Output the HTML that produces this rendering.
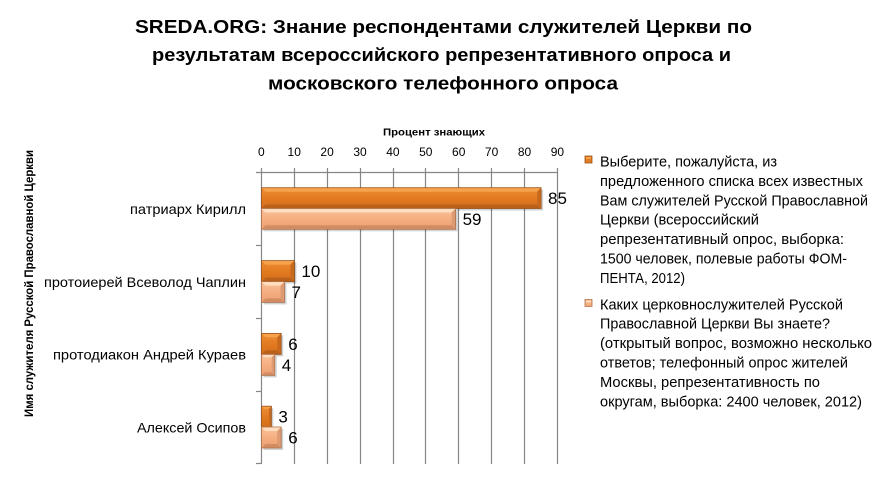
<!DOCTYPE html>
<html><head><meta charset="utf-8"><style>
html,body{margin:0;padding:0;background:#fff;}
svg{display:block;}
text{font-family:"Liberation Sans","DejaVu Sans",sans-serif;fill:#000;}
</style></head><body>
<svg width="887" height="480" viewBox="0 0 887 480" xmlns="http://www.w3.org/2000/svg">
<defs>
<linearGradient id="go" x1="0" y1="0" x2="0" y2="1">
<stop offset="0" stop-color="#EE8E36"/><stop offset="0.5" stop-color="#E37B22"/><stop offset="1" stop-color="#D46E1A"/>
</linearGradient>
<linearGradient id="gl" x1="0" y1="0" x2="0" y2="1">
<stop offset="0" stop-color="#FAC29C"/><stop offset="0.5" stop-color="#F5AE80"/><stop offset="1" stop-color="#EDA072"/>
</linearGradient>
</defs>
<rect width="887" height="480" fill="#fff"/>

<!-- Title -->
<g font-weight="bold" font-size="18">
<text x="135" y="33" textLength="617" lengthAdjust="spacingAndGlyphs">SREDA.ORG: Знание респондентами служителей Церкви по</text>
<text x="152" y="61" textLength="579" lengthAdjust="spacingAndGlyphs">результатам всероссийского репрезентативного опроса и</text>
<text x="268" y="89.5" textLength="350" lengthAdjust="spacingAndGlyphs">московского телефонного опроса</text>
</g>

<!-- Axis title top -->
<text x="383" y="135.5" font-size="10.5" font-weight="bold" textLength="102" lengthAdjust="spacingAndGlyphs">Процент знающих</text>

<!-- Tick labels -->
<g font-size="12" text-anchor="middle">
<text x="261.3" y="156">0</text>
<text x="294.2" y="156">10</text>
<text x="327.1" y="156">20</text>
<text x="360" y="156">30</text>
<text x="392.9" y="156">40</text>
<text x="425.8" y="156">50</text>
<text x="458.7" y="156">60</text>
<text x="491.6" y="156">70</text>
<text x="524.5" y="156">80</text>
<text x="557.4" y="156">90</text>
</g>

<!-- Gridlines -->
<g stroke="#868686" stroke-width="1.2">
<line x1="261.5" y1="168" x2="261.5" y2="464"/>
<line x1="294.5" y1="168" x2="294.5" y2="464"/>
<line x1="327.5" y1="168" x2="327.5" y2="464"/>
<line x1="360.5" y1="168" x2="360.5" y2="464"/>
<line x1="393.5" y1="168" x2="393.5" y2="464"/>
<line x1="425.5" y1="168" x2="425.5" y2="464"/>
<line x1="458.5" y1="168" x2="458.5" y2="464"/>
<line x1="491.5" y1="168" x2="491.5" y2="464"/>
<line x1="524.5" y1="168" x2="524.5" y2="464"/>
<line x1="557.5" y1="168" x2="557.5" y2="464"/>
<line x1="256" y1="172.5" x2="557.5" y2="172.5"/>
<line x1="256" y1="245.5" x2="261.5" y2="245.5"/>
<line x1="256" y1="318.5" x2="261.5" y2="318.5"/>
<line x1="256" y1="391.5" x2="261.5" y2="391.5"/>
<line x1="256" y1="463.5" x2="261.5" y2="463.5"/>
</g>

<!-- Category labels -->
<g font-size="14" text-anchor="end">
<text x="246" y="214" textLength="116" lengthAdjust="spacingAndGlyphs">патриарх Кирилл</text>
<text x="246" y="286.8" textLength="202" lengthAdjust="spacingAndGlyphs">протоиерей Всеволод Чаплин</text>
<text x="246" y="359.4" textLength="193" lengthAdjust="spacingAndGlyphs">протодиакон Андрей Кураев</text>
<text x="246" y="432.5" textLength="109" lengthAdjust="spacingAndGlyphs">Алексей Осипов</text>
</g>

<!-- Vertical axis title -->
<text transform="translate(33,283.5) rotate(-90)" text-anchor="middle" font-size="12" font-weight="bold" textLength="267" lengthAdjust="spacingAndGlyphs">Имя служителя  Русской  Православной  Церкви</text>

<!-- Bars -->
<g>
<rect x="263.5" y="189.7" width="279.6" height="20.8" fill="#000" opacity="0.18"/>
<rect x="261.5" y="187.7" width="279.6" height="20.8" fill="url(#go)"/>
<polygon points="261.5,187.7 541.1,187.7 537.1,191.7 265.5,191.7" fill="#F6A24C"/>
<polygon points="261.5,208.5 541.1,208.5 537.1,204.5 265.5,204.5" fill="#B9611B"/>
<polygon points="541.1,187.7 541.1,208.5 537.1,204.5 537.1,191.7" fill="#C8691E"/>
<rect x="261.5" y="187.7" width="279.6" height="20.8" fill="none" stroke="#9A5318" stroke-width="0.8"/>

<rect x="263.5" y="210.5" width="194.1" height="20.8" fill="#000" opacity="0.18"/>
<rect x="261.5" y="208.5" width="194.1" height="20.8" fill="url(#gl)"/>
<polygon points="261.5,208.5 455.6,208.5 451.6,212.5 265.5,212.5" fill="#FFDDBF"/>
<polygon points="261.5,229.3 455.6,229.3 451.6,225.3 265.5,225.3" fill="#D38C62"/>
<polygon points="455.6,208.5 455.6,229.3 451.6,225.3 451.6,212.5" fill="#DE9A70"/>
<rect x="261.5" y="208.5" width="194.1" height="20.8" fill="none" stroke="#B07450" stroke-width="0.8"/>

<rect x="263.5" y="262.6" width="32.9" height="21" fill="#000" opacity="0.18"/>
<rect x="261.5" y="260.6" width="32.9" height="21" fill="url(#go)"/>
<polygon points="261.5,260.6 294.4,260.6 290.4,264.6 265.5,264.6" fill="#F6A24C"/>
<polygon points="261.5,281.6 294.4,281.6 290.4,277.6 265.5,277.6" fill="#B9611B"/>
<polygon points="294.4,260.6 294.4,281.6 290.4,277.6 290.4,264.6" fill="#C8691E"/>
<rect x="261.5" y="260.6" width="32.9" height="21" fill="none" stroke="#9A5318" stroke-width="0.8"/>

<rect x="263.5" y="283.6" width="23" height="20.8" fill="#000" opacity="0.18"/>
<rect x="261.5" y="281.6" width="23" height="20.8" fill="url(#gl)"/>
<polygon points="261.5,281.6 284.5,281.6 280.5,285.6 265.5,285.6" fill="#FFDDBF"/>
<polygon points="261.5,302.4 284.5,302.4 280.5,298.4 265.5,298.4" fill="#D38C62"/>
<polygon points="284.5,281.6 284.5,302.4 280.5,298.4 280.5,285.6" fill="#DE9A70"/>
<rect x="261.5" y="281.6" width="23" height="20.8" fill="none" stroke="#B07450" stroke-width="0.8"/>

<rect x="263.5" y="335.4" width="19.7" height="21" fill="#000" opacity="0.18"/>
<rect x="261.5" y="333.4" width="19.7" height="21" fill="url(#go)"/>
<polygon points="261.5,333.4 281.2,333.4 277.2,337.4 265.5,337.4" fill="#F6A24C"/>
<polygon points="261.5,354.4 281.2,354.4 277.2,350.4 265.5,350.4" fill="#B9611B"/>
<polygon points="281.2,333.4 281.2,354.4 277.2,350.4 277.2,337.4" fill="#C8691E"/>
<rect x="261.5" y="333.4" width="19.7" height="21" fill="none" stroke="#9A5318" stroke-width="0.8"/>

<rect x="263.5" y="356.4" width="13.2" height="21" fill="#000" opacity="0.18"/>
<rect x="261.5" y="354.4" width="13.2" height="21" fill="url(#gl)"/>
<polygon points="261.5,354.4 274.7,354.4 271.7,357.4 264.5,357.4" fill="#FFDDBF"/>
<polygon points="261.5,375.4 274.7,375.4 271.7,372.4 264.5,372.4" fill="#D38C62"/>
<polygon points="274.7,354.4 274.7,375.4 271.7,372.4 271.7,357.4" fill="#DE9A70"/>
<rect x="261.5" y="354.4" width="13.2" height="21" fill="none" stroke="#B07450" stroke-width="0.8"/>

<rect x="263.5" y="408.2" width="9.9" height="20.8" fill="#000" opacity="0.18"/>
<rect x="261.5" y="406.2" width="9.9" height="20.8" fill="url(#go)"/>
<polygon points="261.5,406.2 271.4,406.2 268.9,408.7 264,408.7" fill="#F6A24C"/>
<polygon points="271.4,406.2 271.4,427 268.9,424.5 268.9,408.7" fill="#C8691E"/>
<rect x="261.5" y="406.2" width="9.9" height="20.8" fill="none" stroke="#9A5318" stroke-width="0.8"/>

<rect x="263.5" y="429" width="19.7" height="21" fill="#000" opacity="0.18"/>
<rect x="261.5" y="427" width="19.7" height="21" fill="url(#gl)"/>
<polygon points="261.5,427 281.2,427 277.2,431 265.5,431" fill="#FFDDBF"/>
<polygon points="261.5,448 281.2,448 277.2,444 265.5,444" fill="#D38C62"/>
<polygon points="281.2,427 281.2,448 277.2,444 277.2,431" fill="#DE9A70"/>
<rect x="261.5" y="427" width="19.7" height="21" fill="none" stroke="#B07450" stroke-width="0.8"/>
</g>

<!-- Data labels -->
<g font-size="17">
<text x="548" y="204.1">85</text>
<text x="462.6" y="224.9">59</text>
<text x="301.4" y="277.1">10</text>
<text x="291.5" y="298">7</text>
<text x="288.2" y="349.9">6</text>
<text x="281.7" y="370.9">4</text>
<text x="278.4" y="422.6">3</text>
<text x="288.2" y="443.5">6</text>
</g>

<!-- Legend -->
<rect x="585" y="156" width="7" height="7" fill="#E37B22" stroke="#9A5318" stroke-width="0.8"/>
<rect x="586" y="157" width="5" height="2" fill="#F6A24C"/>
<rect x="585" y="299.5" width="7" height="7" fill="#F5AE80" stroke="#B07450" stroke-width="0.8"/>
<rect x="586" y="300.5" width="5" height="2" fill="#FFDDBF"/>
<g font-size="14.5">
<text x="600" y="166.5" textLength="177" lengthAdjust="spacingAndGlyphs">Выберите, пожалуйста, из</text>
<text x="600" y="185.9" textLength="263" lengthAdjust="spacingAndGlyphs">предложенного списка всех известных</text>
<text x="600" y="205.3" textLength="268" lengthAdjust="spacingAndGlyphs">Вам служителей Русской Православной</text>
<text x="600" y="224.7" textLength="159" lengthAdjust="spacingAndGlyphs">Церкви (всероссийский</text>
<text x="600" y="244.1" textLength="244" lengthAdjust="spacingAndGlyphs">репрезентативный опрос, выборка:</text>
<text x="600" y="263.5" textLength="247" lengthAdjust="spacingAndGlyphs">1500 человек, полевые работы ФОМ-</text>
<text x="600" y="282.9" textLength="85" lengthAdjust="spacingAndGlyphs">ПЕНТА, 2012)</text>
<text x="600" y="309.3" textLength="243" lengthAdjust="spacingAndGlyphs">Каких церковнослужителей Русской</text>
<text x="600" y="328.7" textLength="230" lengthAdjust="spacingAndGlyphs">Православной Церкви Вы знаете?</text>
<text x="600" y="348.1" textLength="272" lengthAdjust="spacingAndGlyphs">(открытый вопрос,  возможно несколько</text>
<text x="600" y="367.5" textLength="248" lengthAdjust="spacingAndGlyphs">ответов; телефонный опрос жителей</text>
<text x="600" y="386.9" textLength="220" lengthAdjust="spacingAndGlyphs">Москвы, репрезентативность по</text>
<text x="600" y="406.3" textLength="262" lengthAdjust="spacingAndGlyphs">округам, выборка: 2400 человек, 2012)</text>
</g>
</svg>
</body></html>
